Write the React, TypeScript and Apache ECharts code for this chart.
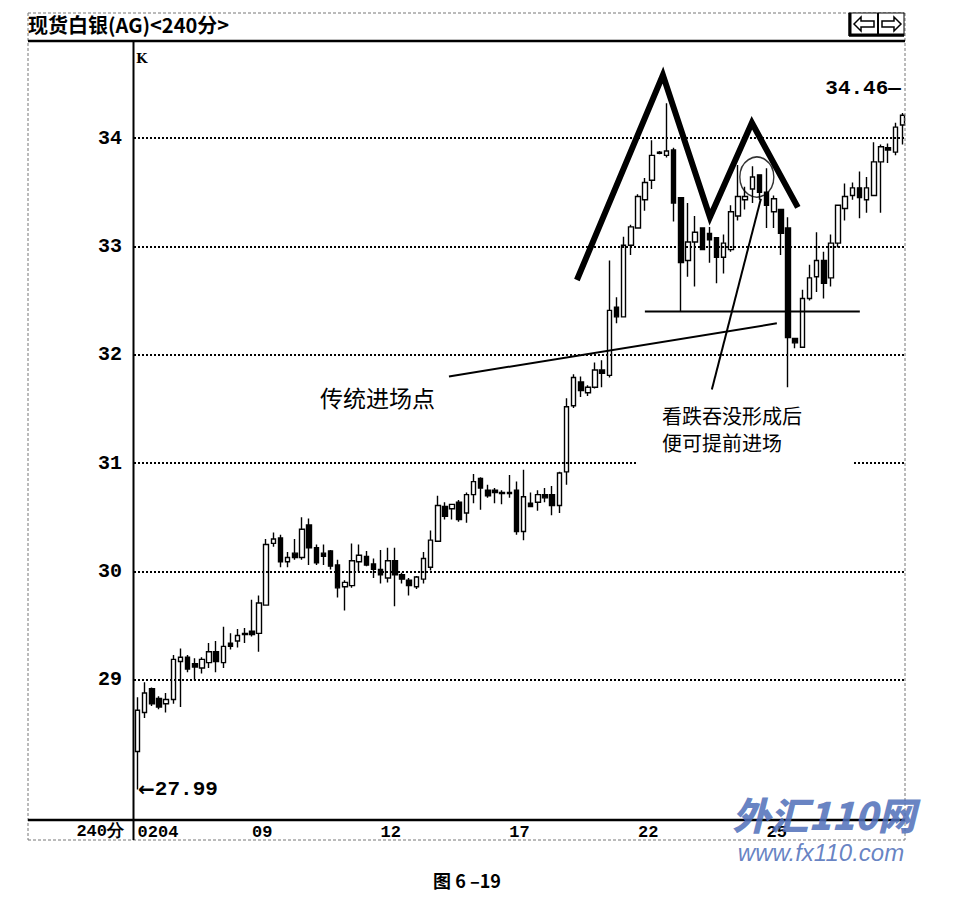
import React, { useEffect, useRef } from "react";
import * as echarts from "echarts";

const TITLE = "现货白银(AG)<240分>";
const PERIOD = "240分";
const CAPTION = "图 6 –19";
const NOTE_ENTRY = "传统进场点";
const NOTE_EARLY = ["看跌吞没形成后", "便可提前进场"];
const WATERMARK = "外汇110网";
const WATERMARK_URL = "www.fx110.com";

// price levels with dotted guide lines
const priceLevels = [29, 30, 31, 32, 33, 34];
// session labels and the bar they start on
const dateTicks = ["0204", "09", "12", "17", "22", "25"];
const dateTickBars = [0, 16, 34, 52, 70, 88];

// 240-minute bars: [open, close, low, high]
const bars: number[][] = [
  [28.34, 28.72, 27.99, 28.84],
  [28.7, 28.88, 28.65, 28.98],
  [28.92, 28.78, 28.76, 28.93],
  [28.83, 28.75, 28.73, 28.85],
  [28.78, 28.82, 28.7, 28.88],
  [28.82, 29.19, 28.78, 29.23],
  [29.17, 29.21, 28.75, 29.29],
  [29.21, 29.1, 29.07, 29.23],
  [29.15, 29.12, 29.0, 29.2],
  [29.11, 29.19, 29.06, 29.21],
  [29.16, 29.26, 29.11, 29.34],
  [29.26, 29.17, 29.07, 29.36],
  [29.16, 29.31, 29.11, 29.49],
  [29.34, 29.31, 29.28, 29.43],
  [29.36, 29.41, 29.3, 29.47],
  [29.43, 29.42, 29.34, 29.48],
  [29.45, 29.42, 29.4, 29.74],
  [29.43, 29.71, 29.26, 29.78],
  [29.69, 30.25, 29.69, 30.3],
  [30.26, 30.3, 30.23, 30.36],
  [30.31, 30.09, 30.04, 30.34],
  [30.09, 30.13, 30.04, 30.18],
  [30.17, 30.13, 30.11, 30.3],
  [30.13, 30.39, 30.11, 30.5],
  [30.43, 30.22, 30.06, 30.49],
  [30.22, 30.08, 30.06, 30.25],
  [30.17, 30.14, 30.06, 30.25],
  [30.19, 30.05, 30.02, 30.2],
  [30.06, 29.85, 29.76, 30.11],
  [29.86, 29.9, 29.64, 29.92],
  [29.87, 30.1, 29.85, 30.26],
  [30.09, 30.15, 30.0, 30.25],
  [30.14, 30.06, 30.05, 30.19],
  [30.07, 30.02, 29.94, 30.12],
  [30.02, 29.97, 29.89, 30.2],
  [29.94, 30.1, 29.9, 30.22],
  [30.1, 29.97, 29.68, 30.22],
  [29.97, 29.93, 29.89, 29.99],
  [29.92, 29.87, 29.78, 29.94],
  [29.86, 29.95, 29.84, 29.96],
  [29.93, 30.12, 29.89, 30.18],
  [30.04, 30.29, 30.01, 30.38],
  [30.28, 30.61, 30.28, 30.7],
  [30.6, 30.51, 30.48, 30.64],
  [30.58, 30.62, 30.48, 30.62],
  [30.64, 30.48, 30.46, 30.66],
  [30.54, 30.71, 30.45, 30.73],
  [30.71, 30.83, 30.63, 30.9],
  [30.86, 30.77, 30.57, 30.87],
  [30.75, 30.7, 30.68, 30.8],
  [30.75, 30.73, 30.63, 30.77],
  [30.73, 30.72, 30.62, 30.75],
  [30.73, 30.72, 30.68, 30.89],
  [30.75, 30.37, 30.34, 30.83],
  [30.37, 30.69, 30.29, 30.94],
  [30.63, 30.6, 30.6, 30.73],
  [30.64, 30.71, 30.56, 30.75],
  [30.71, 30.68, 30.64, 30.77],
  [30.71, 30.61, 30.52, 30.79],
  [30.61, 30.91, 30.54, 30.92],
  [30.92, 31.52, 30.8, 31.6],
  [31.53, 31.79, 31.51, 31.82],
  [31.75, 31.67, 31.61, 31.8],
  [31.65, 31.7, 31.62, 31.72],
  [31.7, 31.86, 31.69, 31.93],
  [31.86, 31.83, 31.7, 31.95],
  [31.81, 32.41, 31.79, 32.87],
  [32.44, 32.35, 32.29, 32.53],
  [32.35, 33.01, 32.35, 33.09],
  [33.01, 33.18, 32.92, 33.2],
  [33.17, 33.46, 33.17, 33.48],
  [33.43, 33.59, 33.33, 33.63],
  [33.61, 33.84, 33.53, 33.98],
  [33.87, 33.86, 33.85, 33.88],
  [33.84, 33.88, 33.82, 34.32],
  [33.89, 33.4, 33.23, 33.91],
  [33.45, 32.85, 32.4, 33.45],
  [32.87, 33.04, 32.72, 33.4],
  [33.04, 33.13, 32.63, 33.28],
  [33.17, 32.97, 32.97, 33.17],
  [33.12, 33.06, 32.85, 33.18],
  [33.08, 32.9, 32.66, 33.08],
  [32.9, 33.03, 32.75, 33.11],
  [32.97, 33.32, 32.95, 33.38],
  [33.28, 33.46, 33.24, 33.75],
  [33.43, 33.46, 33.34, 33.55],
  [33.53, 33.64, 33.4, 33.74],
  [33.66, 33.5, 33.43, 33.66],
  [33.5, 33.38, 33.17, 33.72],
  [33.32, 33.44, 33.17, 33.47],
  [33.34, 33.12, 32.92, 33.34],
  [33.17, 32.16, 31.7, 33.27],
  [32.15, 32.11, 32.06, 32.15],
  [32.07, 32.52, 32.07, 32.6],
  [32.52, 32.71, 32.5, 32.83],
  [32.72, 32.87, 32.58, 33.13],
  [32.87, 32.66, 32.52, 32.95],
  [32.71, 33.03, 32.63, 33.11],
  [33.03, 33.38, 32.99, 33.38],
  [33.35, 33.46, 33.24, 33.58],
  [33.47, 33.54, 33.43, 33.59],
  [33.54, 33.45, 33.26, 33.69],
  [33.43, 33.54, 33.31, 33.64],
  [33.47, 33.78, 33.47, 33.96],
  [33.78, 33.92, 33.31, 33.94],
  [33.91, 33.89, 33.77, 33.95],
  [33.87, 34.1, 33.84, 34.14],
  [34.12, 34.21, 33.94, 34.23],
];

// extremes reported by the terminal
const periodHigh = 34.46;
const periodLow = 27.99;

// hand-drawn overlays, as [bar index, price]
const topPattern = [
  [61.46, 32.69],
  [73.49, 34.58],
  [80.07, 33.27],
  [85.94, 34.14],
  [92.37, 33.36],
];
const neckline = [
  [70.97, 32.4],
  [101.04, 32.4],
];
const entryLine = [
  [43.56, 31.8],
  [89.43, 32.29],
];
const pointerLine = [
  [80.34, 31.68],
  [87.2, 33.44],
];
const engulfRing = [[86.63, 33.64]];

const MONO = "'Liberation Mono', 'DejaVu Sans Mono', monospace";
const CJK = "'Noto Sans CJK SC', 'Noto Sans', sans-serif";

export default function App() {
  const ref = useRef<HTMLDivElement>(null);

  useEffect(() => {
    if (!ref.current) return;
    const chart = echarts.init(ref.current, null, { renderer: "svg" });

    const categories = bars.map((_, i) => String(i));

    const frameLine = (x1: number, y1: number, x2: number, y2: number, w: number, dashed = false) => ({
      type: "line",
      z: 20,
      silent: true,
      shape: { x1, y1, x2, y2 },
      style: {
        stroke: dashed ? "#777" : "#000",
        lineWidth: w,
        lineDash: dashed ? [3, 2] : null,
      },
    });

    const overlayLine = (data: number[][], width: number) => ({
      type: "line",
      xAxisIndex: 1,
      yAxisIndex: 0,
      data,
      symbol: "none",
      silent: true,
      z: 5,
      lineStyle: { color: "#000", width, join: "miter", cap: "butt" },
    });

    const extremeLabel = {
      color: "#000",
      fontFamily: MONO,
      fontWeight: "bold",
      fontSize: 21,
    };

    const option: any = {
      animation: false,
      backgroundColor: "#fff",
      grid: { left: 134, top: 41, width: 772, height: 779 },
      xAxis: [
        {
          type: "category",
          data: categories,
          boundaryGap: true,
          axisLine: { show: false },
          axisTick: { show: false },
          splitLine: { show: false },
          axisLabel: {
            interval: (i: number) => dateTickBars.includes(i),
            formatter: (_: string, i: number) => {
              const k = dateTickBars.indexOf(i);
              return k >= 0 ? dateTicks[k] : "";
            },
            align: "left",
            margin: 4,
            color: "#000",
            fontFamily: MONO,
            fontWeight: "bold",
            fontSize: 17,
          },
        },
        {
          type: "value",
          min: -0.5,
          max: bars.length - 0.5,
          show: false,
        },
      ],
      yAxis: {
        type: "value",
        min: 27.708,
        max: 34.895,
        show: false,
        splitLine: { show: false },
      },
      series: [
        {
          type: "candlestick",
          data: bars,
          barWidth: 5,
          z: 3,
          itemStyle: {
            color: "#fff",
            color0: "#000",
            borderColor: "#000",
            borderColor0: "#000",
            borderWidth: 1.4,
          },
          markLine: {
            silent: true,
            symbol: "none",
            data: priceLevels.map((v) => ({ yAxis: v })),
            lineStyle: { color: "#000", width: 2, type: [2, 2] },
            label: {
              position: "start",
              distance: 12,
              formatter: (p: any) => String(p.value),
              color: "#000",
              fontFamily: MONO,
              fontWeight: "bold",
              fontSize: 20,
            },
          },
          markPoint: {
            silent: true,
            symbol: "rect",
            symbolSize: 1,
            itemStyle: { color: "rgba(0,0,0,0)" },
            data: [
              {
                coord: [bars.length - 1, periodHigh],
                value: periodHigh,
                label: {
                  show: true,
                  position: "left",
                  distance: 1,
                  formatter: (p: any) => `${p.value.toFixed(2)}—`,
                  ...extremeLabel,
                },
              },
              {
                coord: [0, periodLow],
                value: periodLow,
                label: {
                  show: true,
                  position: "right",
                  distance: 0,
                  formatter: (p: any) => `{a|←}{b|${p.value.toFixed(2)}}`,
                  ...extremeLabel,
                  rich: {
                    a: {
                      fontFamily: "'DejaVu Sans', sans-serif",
                      fontWeight: "bold",
                      fontSize: 20,
                      color: "#000",
                    },
                    b: extremeLabel,
                  },
                },
              },
            ],
          },
        },
        overlayLine(topPattern, 6),
        overlayLine(neckline, 2),
        overlayLine(entryLine, 2),
        overlayLine(pointerLine, 2),
        {
          type: "scatter",
          xAxisIndex: 1,
          yAxisIndex: 0,
          data: engulfRing,
          symbol: "circle",
          symbolSize: [34, 40],
          silent: true,
          z: 6,
          itemStyle: { color: "rgba(0,0,0,0)", borderColor: "#000", borderWidth: 1.5 },
        },
      ],
      graphic: [
        // outer panel frame
        frameLine(28, 13, 905, 13, 1, true),
        frameLine(28, 13, 28, 840, 1, true),
        frameLine(905, 13, 905, 840, 1, true),
        frameLine(28, 840, 905, 840, 1, true),
        frameLine(28, 41, 905, 41, 2.5),
        frameLine(28, 820, 905, 820, 2.5),
        frameLine(133.5, 41, 133.5, 840, 2),
        {
          type: "text",
          z: 20,
          left: 28,
          top: 14,
          style: { text: TITLE, fill: "#000", font: `bold 20px ${CJK}` },
        },
        {
          type: "text",
          z: 20,
          x: 136,
          y: 52,
          style: { text: "K", fill: "#000", font: "bold 13px 'DejaVu Serif', serif" },
        },
        {
          type: "text",
          z: 20,
          x: 124,
          y: 831,
          style: {
            text: PERIOD,
            fill: "#000",
            font: `bold 17px ${MONO}`,
            align: "right",
            verticalAlign: "middle",
          },
        },
        // scroll buttons
        {
          type: "rect",
          z: 20,
          shape: { x: 849, y: 13, width: 29, height: 23 },
          style: { fill: "#fff", stroke: "#000", lineWidth: 1 },
        },
        {
          type: "rect",
          z: 20,
          shape: { x: 878, y: 13, width: 26, height: 23 },
          style: { fill: "#fff", stroke: "#000", lineWidth: 1 },
        },
        frameLine(850, 13, 850, 36, 3),
        frameLine(849, 35, 904, 35, 3),
        frameLine(878, 13, 878, 36, 2),
        {
          type: "polygon",
          z: 21,
          shape: { points: [[854, 24], [861, 17], [861, 21], [874, 21], [874, 27], [861, 27], [861, 31]] },
          style: { fill: "#fff", stroke: "#000", lineWidth: 1.5 },
        },
        {
          type: "polygon",
          z: 21,
          shape: { points: [[901, 24], [894, 17], [894, 21], [882, 21], [882, 27], [894, 27], [894, 31]] },
          style: { fill: "#fff", stroke: "#000", lineWidth: 1.5 },
        },
        // notes
        {
          type: "text",
          z: 20,
          x: 320,
          y: 397,
          style: {
            text: NOTE_ENTRY,
            fill: "#000",
            font: `23px ${CJK}`,
            verticalAlign: "middle",
          },
        },
        {
          type: "rect",
          z: 15,
          shape: { x: 638, y: 398, width: 216, height: 72 },
          style: { fill: "#fff" },
        },
        {
          type: "text",
          z: 20,
          x: 662,
          y: 415,
          style: { text: NOTE_EARLY[0], fill: "#000", font: `20px ${CJK}`, verticalAlign: "middle" },
        },
        {
          type: "text",
          z: 20,
          x: 662,
          y: 442,
          style: { text: NOTE_EARLY[1], fill: "#000", font: `20px ${CJK}`, verticalAlign: "middle" },
        },
        {
          type: "text",
          z: 20,
          x: 467,
          y: 880,
          style: {
            text: CAPTION,
            fill: "#000",
            font: `bold 18px ${CJK}`,
            align: "center",
            verticalAlign: "middle",
          },
        },
        // site mark
        {
          type: "text",
          z: 30,
          x: 824,
          y: 813,
          style: {
            text: WATERMARK,
            fill: "rgba(78,110,185,0.85)",
            font: `italic 900 38px ${CJK}`,
            align: "center",
            verticalAlign: "middle",
          },
        },
        {
          type: "text",
          z: 30,
          x: 821,
          y: 852,
          style: {
            text: WATERMARK_URL,
            fill: "rgba(78,110,185,0.85)",
            font: "italic 24px 'Liberation Sans', Arial, sans-serif",
            align: "center",
            verticalAlign: "middle",
          },
        },
      ],
    };

    chart.setOption(option);
    return () => chart.dispose();
  }, []);

  return (
    <div
      ref={ref}
      style={{ position: "fixed", left: 0, top: 0, width: 973, height: 910, background: "#fff" }}
    />
  );
}
